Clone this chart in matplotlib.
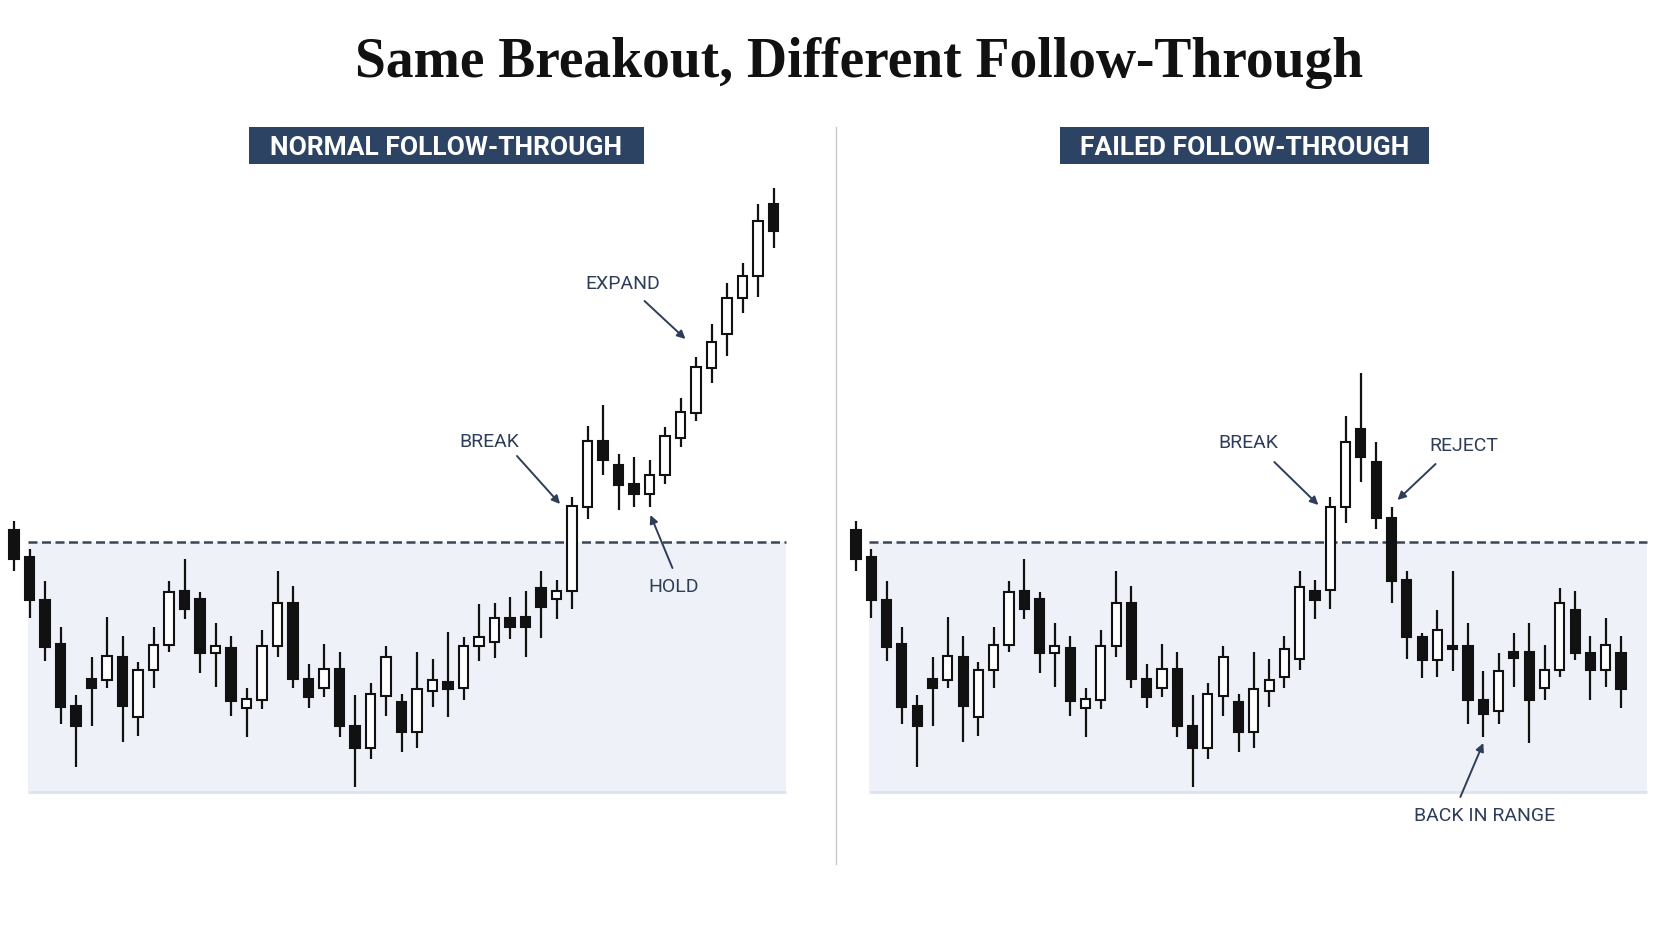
import matplotlib.pyplot as plt
from matplotlib.patches import Rectangle
from matplotlib.lines import Line2D

# shared range candles (first 28 bars are the same in both panels)
base_open = [101.2, 98.5, 94.2, 89.8, 83.6, 86.3, 86.2, 88.5, 82.5, 87.2, 89.7, 95.1, 94.3, 88.9,
             89.4, 83.4, 84.2, 89.6, 93.9, 86.3, 85.4, 87.3, 81.6, 79.4, 84.6, 84.0, 81.0, 85.1]
base_high = [102.1, 99.3, 96.1, 91.5, 84.7, 88.5, 92.5, 90.6, 88.0, 91.5, 96.1, 98.3, 95.0, 91.9,
             90.6, 85.4, 91.2, 97.1, 95.6, 87.8, 89.8, 89.0, 84.7, 85.9, 89.6, 84.8, 89.0, 88.3]
base_low = [97.1, 92.4, 88.1, 81.8, 77.5, 81.6, 85.4, 80.0, 80.6, 85.4, 89.0, 92.3, 86.9, 85.5,
            82.6, 80.5, 83.3, 88.5, 85.4, 83.4, 84.5, 80.5, 75.5, 78.3, 82.6, 79.0, 79.4, 83.5]
base_close = [98.3, 94.2, 89.5, 83.5, 81.6, 85.4, 88.6, 83.6, 87.2, 89.7, 95.0, 93.3, 88.9, 89.6,
              84.1, 84.3, 89.6, 93.9, 86.3, 84.5, 87.3, 81.6, 79.4, 84.8, 88.5, 81.0, 85.3, 86.2]

# normal follow-through continuation
normal_open = [86.0, 85.4, 89.6, 90.0, 92.4, 92.5, 95.4, 94.3, 95.1, 103.5, 110.1,
               107.7, 105.8, 104.8, 106.7, 110.4, 112.9, 117.4, 120.8, 124.4, 126.6, 133.8]
normal_high = [91.0, 90.5, 93.8, 93.9, 94.5, 95.1, 97.1, 96.2, 104.5, 111.6, 113.7,
               108.8, 108.5, 108.2, 111.5, 114.4, 118.5, 121.8, 125.9, 127.9, 133.8, 135.4]
normal_low = [82.5, 84.2, 88.1, 88.4, 90.3, 88.5, 90.4, 92.3, 93.3, 102.3, 106.7,
              103.2, 103.5, 103.5, 105.8, 109.5, 112.1, 115.9, 118.6, 122.9, 124.5, 129.4]
normal_close = [85.3, 89.6, 90.5, 92.4, 91.5, 91.5, 93.5, 95.1, 103.6, 110.1, 108.2,
                105.7, 104.8, 106.7, 110.6, 113.0, 117.5, 120.0, 124.4, 126.6, 132.1, 131.1]

# failed follow-through continuation
failed_open = [86.5, 88.3, 95.1, 95.2, 103.5, 111.3, 108.0, 102.4, 96.2, 90.5, 88.2, 89.6,
               89.6, 84.2, 83.1, 89.0, 89.0, 85.4, 87.2, 93.2, 88.9, 87.2, 88.9]
failed_high = [90.6, 97.1, 96.2, 104.5, 112.6, 116.9, 110.0, 103.5, 97.1, 90.9, 93.2, 97.1,
               91.9, 87.1, 88.9, 90.9, 91.9, 89.7, 95.4, 95.1, 90.6, 92.4, 90.6]
failed_low = [85.4, 87.2, 92.3, 93.3, 101.9, 106.0, 101.3, 93.9, 88.3, 86.4, 86.5, 87.1,
              81.8, 80.5, 81.8, 85.5, 79.9, 84.2, 86.5, 88.2, 84.2, 85.5, 83.4]
failed_close = [89.3, 95.5, 94.2, 103.5, 110.0, 108.5, 102.4, 96.1, 90.5, 88.2, 91.2, 89.3,
                84.2, 82.8, 87.1, 88.4, 84.2, 87.2, 93.9, 88.9, 87.2, 89.7, 85.3]

range_top = 100.0
range_low = 75.0

NAVY = '#2d4364'
INK = '#2e3d5a'
W, H = 1672, 941

fig = plt.figure(figsize=(W / 100, H / 100), dpi=100)
fig.patch.set_facecolor('white')


def draw_candles(ax, o, h, l, c):
    x = list(range(len(o)))
    ax.vlines(x, l, h, color='#111111', lw=1.6, zorder=2)
    for i in x:
        up = c[i] >= o[i]
        ax.bar(i, abs(c[i] - o[i]), bottom=min(o[i], c[i]), width=0.6,
               color='white' if up else '#111111', edgecolor='#111111',
               linewidth=1.5, zorder=3)


def draw_panel(ax, o, h, l, c, zone, notes):
    z0, z1 = zone
    ax.fill_between([z0, z1], range_low, range_top, color='#eef2f8', lw=0, zorder=0)
    ax.hlines(range_low, z0, z1, colors='#dde3ee', lw=2, zorder=1)
    ax.hlines(range_top, z0, z1, colors='#3a4658', lw=1.8,
              linestyles=(0, (3.6, 1.8)), zorder=1)
    draw_candles(ax, o, h, l, c)
    for label, txt_xy, start, tip in notes:
        ax.text(txt_xy[0], txt_xy[1], label, ha='center', va='center',
                fontsize=14, family='Roboto', color=INK)
        ax.annotate('', xy=tip, xytext=start,
                    arrowprops=dict(arrowstyle='-|>', color=INK, lw=1.4,
                                    mutation_scale=12, shrinkA=0, shrinkB=0))
    ax.set_ylim(60.1, 154.2)
    ax.axis('off')


ax_l = fig.add_axes([0, 0, 836 / W, 1])
ax_l.patch.set_alpha(0)
draw_panel(ax_l, base_open + normal_open, base_high + normal_high,
           base_low + normal_low, base_close + normal_close, (0.9, 49.8),
           [('BREAK', (30.65, 110.0), (32.45, 108.6), (35.23, 103.8)),
            ('EXPAND', (39.26, 125.8), (40.68, 124.1), (43.32, 120.3)),
            ('HOLD', (42.55, 95.5), (42.48, 97.4), (41.06, 102.7))])
ax_l.set_xlim(-14 / 15.5, (836 - 14) / 15.5)

ax_r = fig.add_axes([836 / W, 0, 836 / W, 1])
ax_r.patch.set_alpha(0)
draw_panel(ax_r, base_open + failed_open, base_high + failed_high,
           base_low + failed_low, base_close + failed_close, (0.85, 51.7),
           [('BREAK', (25.64, 109.9), (27.34, 108.0), (30.22, 103.7)),
            ('REJECT', (39.71, 109.6), (37.88, 107.8), (35.39, 104.2)),
            ('BACK IN RANGE', (41.07, 72.6), (39.5, 74.5), (41.0, 79.9))])
ax_r.set_xlim((836 - 856) / 15.3, (1672 - 856) / 15.3)

# title
fig.text(859 / W, 1 - 77 / H, 'Same Breakout, Different Follow-Through', ha='center',
         va='baseline', fontsize=40, fontweight='bold', family='Liberation Serif',
         color='#111111')

# panel headers
for x0, x1, label in [(249, 644, 'NORMAL FOLLOW-THROUGH'),
                      (1060, 1429, 'FAILED FOLLOW-THROUGH')]:
    fig.add_artist(Rectangle((x0 / W, 1 - 164 / H), (x1 - x0) / W, 37 / H,
                             transform=fig.transFigure, color=NAVY, lw=0))
    fig.text((x0 + x1) / 2 / W, 1 - 155 / H, label, ha='center', va='baseline',
             fontsize=19, fontweight='bold', family='Roboto', color='white')

# separator
fig.add_artist(Line2D([836 / W, 836 / W], [1 - 127 / H, 1 - 864 / H],
                      transform=fig.transFigure, color='#c8c8c8', lw=1))

fig.savefig('out.png', dpi=100)
